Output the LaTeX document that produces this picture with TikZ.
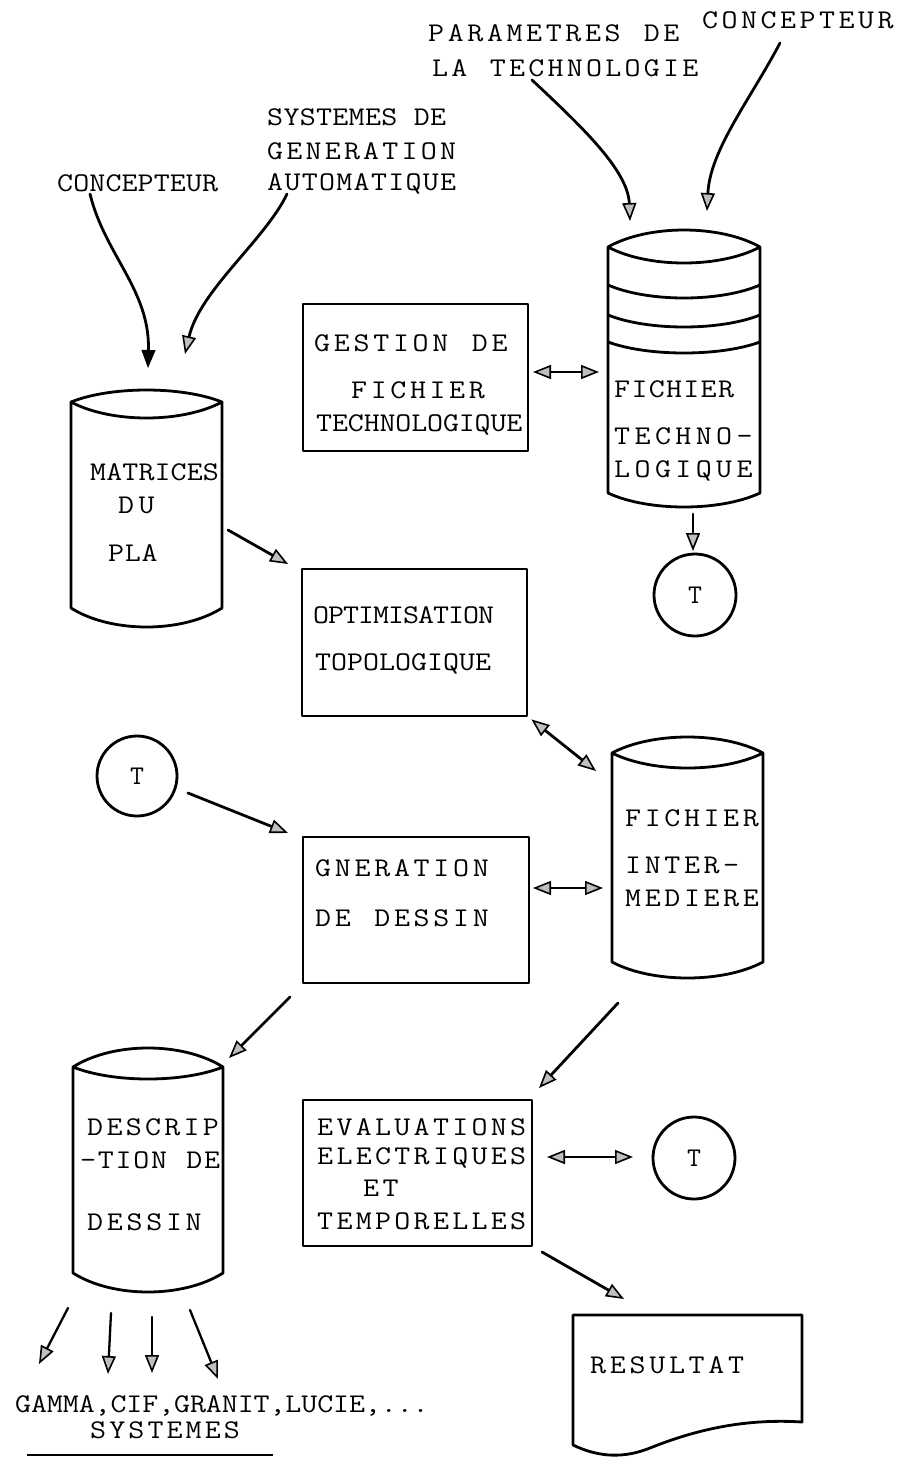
\documentclass[tikz,border=0pt]{standalone}
\usepackage{fontspec}
\usepackage{graphicx}
\newcommand\twf{\ttfamily\fontsize{27pt}{30pt}\selectfont}
\usetikzlibrary{arrows.meta}
\makeatletter
\newdimen\pitchd
\def\pitched#1#2{\pitchd=#1pt\relax\pitched@#2\@nil}
\def\pitched@#1{\ifx#1\@nil\else\makebox[\pitchd][l]{\scalebox{1.15}[1]{#1}}\expandafter\pitched@\fi}
\makeatother
\newcommand\cyl[7]{%
 \draw[ln] (#1,#3) .. controls +(40,{-(#4)/0.75}) and +(-40,{-(#4)/0.75}) .. (#2,#3)
   .. controls +(-40,{(#5)/0.75}) and +(40,{(#5)/0.75}) .. (#1,#3)
   -- (#1,#6) .. controls +(40,{(#7)/0.75}) and +(-40,{(#7)/0.75}) .. (#2,#6) -- (#2,#3);}
\newcommand\stripe[4]{%
 \draw[ln] (#1,#3) .. controls +(40,{(#4)/0.75}) and +(-40,{(#4)/0.75}) .. (#2,#3);}
\tikzset{
 ln/.style={line width=2.8pt, line join=round, line cap=round},
 box/.style={ln, draw, rectangle, inner sep=0pt},
 body/.style={rectangle, inner sep=0pt, draw=none},
 circ/.style={ln, draw, circle, inner sep=0pt, minimum size=82pt, font=\twf, text height=16pt, text depth=0pt},
 lbl/.style={anchor=west, inner sep=0pt, text height=16pt, text depth=0pt, font=\twf},
 gtip/.tip={Triangle[length=18pt,width=14pt,fill=gray!50,line width=1.6pt]},
 btip/.tip={Triangle[length=18pt,width=14pt,line width=1pt]},
 arr/.style={ln, -gtip},
 darr/.style={ln, gtip-gtip},
 arrb/.style={ln, -btip},
}
\begin{document}
\begin{tikzpicture}[x=1pt,y=-1pt]
\fill[white] (0,0) rectangle (898,1457);
\useasboundingbox (0,0) rectangle (898,1457);

% ---------- top labels ----------
\node[lbl] (concR) at (702,20) {\pitched{19.5}{CONCEPTEUR}};
\node[lbl] (param1) at (428,33) {\pitched{19.6}{PARAMETRES~DE}};
\node[lbl] (param2) at (432,68) {\pitched{19.25}{LA~TECHNOLOGIE}};
\node[lbl] (sys1) at (267,117) {\pitched{16.3}{SYSTEMES~DE}};
\node[lbl] (sys2) at (267,151) {\pitched{19.2}{GENERATION}};
\node[lbl] (sys3) at (267,182) {\pitched{17.3}{AUTOMATIQUE}};
\node[lbl] (concL) at (57,183) {\pitched{16.1}{CONCEPTEUR}};

% ---------- boxes ----------
\node[box, minimum width=225pt, minimum height=147pt] (gest) at (415.5,377.5) {};
\node[lbl] (gest1) at (314,343) {\pitched{19.7}{GESTION~DE}};
\node[lbl] (gest2) at (351,390) {\pitched{19.6}{FICHIER}};
\node[lbl] (gest3) at (316,423) {\pitched{15.85}{TECHNOLOGIQUE}};

\node[box, minimum width=225pt, minimum height=147pt] (opt) at (414.5,642.5) {};
\node[lbl] (opt1) at (313,615) {\pitched{15}{OPTIMISATION}};
\node[lbl] (opt2) at (315,662) {\pitched{16}{TOPOLOGIQUE}};

\node[box, minimum width=226pt, minimum height=146pt] (gen) at (416,910) {};
\node[lbl] (gen1) at (315,868) {\pitched{19.7}{GNERATION}};
\node[lbl] (gen2) at (315,918) {\pitched{19.7}{DE~DESSIN}};

\node[box, minimum width=229pt, minimum height=146pt] (eval) at (417.5,1173) {};
\node[lbl] (eval1) at (317,1127) {\pitched{19.3}{EVALUATIONS}};
\node[lbl] (eval2) at (317,1156) {\pitched{19.3}{ELECTRIQUES}};
\node[lbl] (eval3) at (363,1188) {\pitched{19.3}{ET}};
\node[lbl] (eval4) at (317,1221) {\pitched{19.3}{TEMPORELLES}};

% ---------- cylinders ----------
\node[body, minimum width=151pt, minimum height=206pt] (mat) at (146.5,505) {};
\cyl{71}{222}{402}{12}{16}{608}{19}
\node[lbl] (mat1) at (90,472) {\pitched{16.1}{MATRICES}};
\node[lbl] (mat2) at (118,505) {\pitched{20.5}{DU}};
\node[lbl] (mat3) at (108,553) {\pitched{16.7}{PLA}};

\node[body, minimum width=152pt, minimum height=246pt] (tech) at (684,370) {};
\cyl{608}{760}{247}{17}{16}{493}{14}
\stripe{608}{760}{285}{13}
\stripe{608}{760}{315}{12}
\stripe{608}{760}{342}{11}
\node[lbl] (tech1) at (614,389) {\pitched{17.3}{FICHIER}};
\node[lbl] (tech2) at (614,436) {\pitched{20.4}{TECHNO-}};
\node[lbl] (tech3) at (614,469) {\pitched{20.4}{LOGIQUE}};

\node[body, minimum width=151pt, minimum height=209pt] (inter) at (687.5,857.5) {};
\cyl{612}{763}{753}{16}{15}{962}{16}
\node[lbl] (inter1) at (625,818) {\pitched{19.6}{FICHIER}};
\node[lbl] (inter2) at (625,865) {\pitched{19.6}{INTER-}};
\node[lbl] (inter3) at (625,898) {\pitched{19.6}{MEDIERE}};

\node[body, minimum width=150pt, minimum height=206pt] (desc) at (148,1170) {};
\cyl{73}{223}{1067}{19}{12}{1273}{19}
\node[lbl] (desc1) at (87,1127) {\pitched{19.3}{DESCRIP}};
\node[lbl] (desc2) at (80,1160) {\pitched{17.7}{-TION~DE}};
\node[lbl] (desc3) at (87,1222) {\pitched{19.7}{DESSIN}};

% ---------- circles ----------
\node[circ] (t1) at (695,595) {T};
\node[circ, minimum size=80pt] (t2) at (137,776) {T};
\node[circ] (t3) at (694,1158) {T};

% ---------- result document ----------
\draw[ln] (573,1445) -- (573,1315) -- (802,1315) -- (802,1422)
  .. controls (740,1418) and (690,1432) .. (650,1448)
  .. controls (625,1458) and (600,1458) .. (573,1445);
\node[body, minimum width=229pt, minimum height=120pt] (res) at (687.5,1375) {};
\node[lbl] (res1) at (590,1365) {\pitched{19.7}{RESULTAT}};

% ---------- bottom labels ----------
\node[lbl] (out1) at (15,1404) {\pitched{15.9}{GAMMA,CIF,GRANIT,LUCIE,...}};
\node[lbl] (out2) at (90,1430) {\pitched{19.1}{SYSTEMES}};
\draw[line width=2.2pt] (27,1455) -- (273,1455);

% ---------- connector end points ----------
\coordinate (cLs) at (90,194);   \coordinate (cLe) at (148,368);
\coordinate (sys) at (287,194);  \coordinate (syse) at (185,354);
\coordinate (pas) at (532,80);   \coordinate (pae) at (630,221);
\coordinate (cRs) at (780,43);   \coordinate (cRe) at (707,211);
\coordinate (gts) at (533,372);  \coordinate (gte) at (599,372);
\coordinate (tts) at (693,514);  \coordinate (tte) at (693,551);
\coordinate (mos) at (228,530);  \coordinate (moe) at (288,564);
\coordinate (oie) at (596,771);
\coordinate (tgs) at (188,793);  \coordinate (tge) at (288,833);
\coordinate (gis) at (533,888);  \coordinate (gie) at (603,888);
\coordinate (gds) at (290,997);  \coordinate (gde) at (229,1058);
\coordinate (ies) at (618,1003); \coordinate (iee) at (539,1088);
\coordinate (ets) at (547,1157); \coordinate (ete) at (633,1157);
\coordinate (ers) at (542,1252); \coordinate (ere) at (624,1299);
\coordinate (o1s) at (68,1308);  \coordinate (o1e) at (39,1364);
\coordinate (o2s) at (111,1313); \coordinate (o2e) at (108,1374);
\coordinate (o3s) at (152,1317); \coordinate (o3e) at (152,1373);
\coordinate (o4s) at (190,1310); \coordinate (o4e) at (218,1379);

% ---------- connectors ----------
\draw[arrb] (cLs) .. controls (105,255) and (150,290) .. (cLe);
\draw[arr] (sys) .. controls (265,240) and (200,290) .. (syse);
\draw[arr] (pas) .. controls (580,125) and (628,170) .. (pae);
\draw[arr] (cRs) .. controls (750,100) and (710,150) .. (cRe);
\draw[darr] (gts) -- (gte);
\draw[arr] (tts) -- (tte);
\draw[arr] (mos) -- (moe);
\draw[darr] ([shift={(3pt,-2pt)}]opt.south east) -- (oie);
\draw[arr] (tgs) -- (tge);
\draw[darr] (gis) -- (gie);
\draw[arr] (gds) -- (gde);
\draw[arr] (ies) -- (iee);
\draw[darr] (ets) -- (ete);
\draw[arr] (ers) -- (ere);
\draw[arr, line width=2.3pt] (o1s) -- (o1e);
\draw[arr, line width=2.3pt] (o2s) -- (o2e);
\draw[arr, line width=2.3pt] (o3s) -- (o3e);
\draw[arr, line width=2.3pt] (o4s) -- (o4e);
\end{tikzpicture}
\end{document}
